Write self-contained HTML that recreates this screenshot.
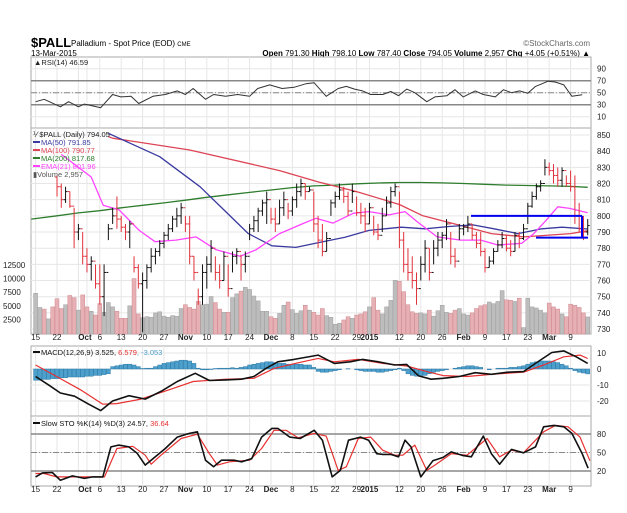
<!DOCTYPE html>
<html><head><meta charset="utf-8"><style>
html,body{margin:0;padding:0;background:#fff;}
svg{display:block;font-family:"Liberation Sans",sans-serif;}
</style></head><body>
<svg id="chart" width="627" height="513" viewBox="0 0 627 513" xmlns="http://www.w3.org/2000/svg">
<g>
<text x="31" y="47" font-size="13" font-weight="bold">$PALL</text>
<text x="71" y="46" font-size="8">Palladium - Spot Price (EOD) <tspan font-size="6">CME</tspan></text>
<text x="590" y="46" font-size="8" fill="#666" text-anchor="end">©StockCharts.com</text>
<text x="31" y="56" font-size="8">13-Mar-2015</text>
<text x="590" y="56" font-size="8" text-anchor="end"><tspan font-weight="bold">Open</tspan> 791.30 <tspan font-weight="bold">High</tspan> 798.10 <tspan font-weight="bold">Low</tspan> 787.40 <tspan font-weight="bold">Close</tspan> 794.05 <tspan font-weight="bold">Volume</tspan> 2,957 <tspan font-weight="bold">Chg</tspan> +4.05 (+0.51%) ▲</text>
</g>
<g id="grid"></g>
<g id="marks"></g>
<g id="labels"></g>
</svg>
<script>
// ---- data ----
const weekIdx = [0,5,10,15,20,25,30,35,40,45,50,55,60,65,70,75,78,85,90,95,100,105,110,115,120,125];
const weekLbl = ["15","22","","6","13","20","27","Nov","10","17","24","Dec","8","15","22","29","2015","12","20","26","Feb","9","17","23","Mar","9"];
const octIdx = 12;
const priceTicks = [730,740,750,760,770,780,790,800,810,820,830,840,850];
const volTicks = [2500,5000,7500,10000,12500];
const rsiTicks = [10,30,50,70,90];
const macdTicks = [10,0,-10,-20];
const stoTicks = [20,50,80];
const lows  = [822,824,822,824,820, 812,805,808,805,780,785,770,765,760,755,745,738,785,795,792,790,785,780,765,755,728,755,765,770,775,780,785,790,793,795,790,770,760,745,745,755,765,760,755,760,750,765,770,760,765,785,790,790,800,795,795,790,795,800,798,800,805,812,810,815,790,780,775,778,800,805,810,808,800,808,800,795,790,795,788,785,790,800,805,812,780,765,760,755,745,760,765,760,770,775,780,785,770,768,785,788,790,785,780,775,765,768,770,778,780,778,775,778,780,785,795,805,810,815,825,825,820,818,818,818,815,795,790,785,788];
const highs = [835,836,834,838,833, 825,820,818,815,805,795,790,780,775,770,770,770,795,805,812,800,795,797,775,770,765,770,780,780,785,790,795,800,805,808,800,800,775,755,770,775,785,775,770,778,770,778,780,776,778,795,800,805,810,815,805,805,810,815,808,812,820,823,820,818,815,800,795,790,810,815,820,818,815,820,812,808,805,808,800,795,805,812,818,820,815,790,780,775,765,775,785,780,785,790,790,798,790,780,795,795,800,795,790,790,780,775,780,785,790,788,785,790,790,795,808,815,820,822,835,833,832,830,830,825,828,825,808,800,798];
const closes= [825,828,826,830,824, 818,810,815,806,790,792,775,770,772,758,750,765,792,800,798,793,790,795,768,758,760,768,775,778,783,788,792,798,800,805,795,775,765,750,765,770,780,765,760,775,755,775,778,770,775,792,797,803,808,810,798,795,805,810,803,810,815,820,815,816,795,785,778,786,808,812,816,812,803,815,802,800,795,805,790,788,800,808,815,818,785,770,765,760,755,770,780,765,780,785,788,795,775,772,792,793,795,788,783,778,768,772,778,782,786,780,778,788,786,792,806,812,818,820,830,828,825,822,828,820,818,800,792,790,794];
const volumes=[7300,4700,4400,2600,4800,6300,4500,5200,6900,6500,4200,7000,4800,4000,3300,5400,3800,5600,4800,4000,2700,2700,5000,10000,3500,2800,3000,2900,3700,3900,3100,2900,3200,3100,4500,5200,4700,4400,5800,5200,5300,6700,5600,4400,3800,3800,6500,7200,7700,8400,8000,6800,5900,4000,4000,3000,2700,3600,5100,5700,4300,3600,4100,5100,4200,3800,3300,4500,3200,2900,1600,1800,2400,3000,2700,3300,3500,3900,4800,6500,4200,3500,4800,6000,9700,9500,7600,5200,3900,3600,3700,3500,4200,3100,4100,5100,3800,3600,4200,4500,3500,3300,3700,4500,5000,5200,5700,5400,5800,7800,6100,6000,5800,6400,1000,6400,4800,4600,4200,3700,5500,4800,4400,3500,3000,5300,5100,4700,3700,2957];
const ma50Idx = [17,19.5,29,38.4,44,49.7,55.2,60.8,66.4,72.3,77.9,85.4,91,96.6,102.2,107.1,112.7,118.3,123,129];
const ma50Val = [851,848,836.6,818,803.7,789,781.5,780.5,783.6,786.8,791,793,792,793.4,794.4,792,789,792,793,791.85];
const ma100Idx = [17,18,36,57,66,75,85,90.5,100,106.5,114,125,129];
const ma100Val = [849,848,840.7,828,821,815,807,800,793.6,789,787,789,790.77];
const ma200Idx = [-1,5,10,15,20,25,30,35,40,45,50,55,60,65,70,75,80,85,90,95,100,105,110,115,120,125,129];
const ma200Val = [798,800,801.8,803.2,805,806.5,808,809.7,811.5,813,814.5,816,817.5,818.5,819,819.8,820.3,820.6,820.6,820.4,820,819.5,819,818.8,818.5,818.2,817.68];
const emaIdx = [6,13,15.8,19.5,24.2,27.9,32.8,37.5,42.2,47.8,51.5,57,62.7,65.5,69.5,74.2,77.9,82.6,86.3,89.1,93.8,99.3,104,108,113.6,116.4,119.2,122,124.8,129];
const emaVal = [838,824,806.6,803.7,791,784,785,787,779,775,779,789,795.5,798.5,795.5,801.6,802.6,800.6,802.6,796.5,787,785,785,782,783,789,797,805.6,804.6,801.96];
const rsiIdx = [0,2,5.8,7.7,10,11.4,13.3,15.2,18,19.9,22.3,24.1,27.4,30.3,33.1,35,36.8,39.7,41.6,44.4,47.2,50,51.9,54.7,57.6,60.4,63.2,65.1,67.9,70.7,72.6,74.5,76.4,78.3,81.1,83,84.8,86.7,88.6,91.4,93.3,96.1,98,99.9,102.7,104.6,107.4,109.3,111.2,113.1,115,116.8,119.7,121.5,123.4,125.3,127.7];
const rsiVal = [35,39,26.5,35,26.5,31,28,25,47,43,44,32,44,47,53,47,57,39,47,44,47,44,57,63,57,59,65,66.5,44,57,60.5,56,53,47,47,52,45,56,50,35,43,45,55,43,53,47,43,55,50,53,49,60.5,69,67.6,63,44,46.59];
const macdIdx = [0,3,5.8,9.1,12.4,15.2,18,21.8,25.6,29.3,33.1,37.3,40.6,44.4,48.1,51,53.8,56.6,60.4,66,69.8,73.5,76.4,80.1,83.9,86.7,89.5,92.4,95.2,99,102.7,106.5,110.3,114,116.8,120.6,123.4,126.3,129];
const macdVal = [-4.7,-9.9,-15,-17,-22,-26,-20,-16.7,-18.8,-14,-7.8,-2.7,-7.2,-6.8,-6.4,-4.7,0.4,4.5,6,8.7,3.5,4.5,6,4.5,2.5,2.9,-4.3,-6.4,-5.8,-4.7,-2.3,-3.3,-2,-1.6,3.5,10.3,11.3,7.6,3.525];
const sigIdx = [0,4.9,10.5,15.7,19,24.6,31.2,36.8,44.4,51,55.7,61.3,66,69.8,75.4,81.1,86.7,91.4,95.2,100.8,107.4,114,118.7,123.4,127.2,129];
const sigVal = [2.5,-4.7,-13,-22,-21.6,-18.8,-13,-7.8,-6.4,-5.8,0.4,3.9,6.6,4.5,6,3.5,1.9,-1.6,-4.1,-4.7,-3.1,-2,2.5,7.6,8.7,6.579];
const histVal = [-7,-7,-6.5,-6.5,-6,-6,-5.5,-5.5,-5,-5,-5,-5,-4.5,-4.5,-4,-4,-3.5,-3,1.5,2,2.5,3,3,2.5,1.5,0.3,0.5,0.5,1.5,2.5,3.5,4,4.5,5,5.5,5.5,5,3.5,0.5,-0.5,-0.5,-0.3,0.3,0.5,0.5,0.5,0.8,0.5,1,1.5,2.5,3,3.5,4,4.5,4.5,4,3.5,3.5,3,3,3,3,2.5,2.5,1,-1.5,-2,-2,-1.5,-1,-0.5,0,0.2,0,-0.5,-1,-1.5,-1.5,-1.5,-2,-2,-1.5,-1,-0.5,0.5,-1,-3,-4,-4.5,-4.5,-4,-3,-2,-1.5,-1,-0.5,0,0.5,1,1.5,2,2,1.5,1,0,-0.5,0,0.5,0.5,0.5,1,1,1.5,2,3,4,4.5,5,5,5,4.5,4,3,2,0.5,-1,-2,-2.5,-3.053];
const kIdx = [0,1.6,3.9,5.8,8.6,11.4,13.3,15.7,17.6,19.4,21.8,23.7,25.6,27.4,30.3,33.1,35.9,37.8,39.7,41.6,43.4,46.3,48.1,50.5,52.8,55.2,56.6,59.4,61.8,65.1,67,69.3,71.2,73.1,75.9,77.8,79.7,81.1,83,84.8,86.3,87.7,90,92.8,95.2,97.1,99.9,101.8,104.6,106.5,108.4,111.2,114,116.8,118.7,121.1,123.4,125.3,127.7,129.1];
const kVal = [10.5,17,17.6,5,12,8,10.5,10.5,59,62,59,49,29.5,40,56.5,75,81,83.5,37.6,27,37.6,37.6,35,40,75,89,89,75,72.7,86,70,10.5,21,70,75,70,48,47,47,43,70,59,10.5,36.5,42,51,45,43,76.5,48,31,55,49.5,59,91.6,94,91.6,81,48,24.57];
const dIdx = [0,2,4.9,8.1,12.4,16.1,19,22.7,25.6,27,29.3,34,37.8,40.6,42.5,45.3,50,52.8,55.7,58.5,61.3,65.1,67.9,70.7,72.6,75.4,78.3,81.1,83.9,85.8,88.6,91.4,93.3,97.1,100.8,105.5,108.4,111.2,114,118.7,121.5,124.4,127.2,129.5];
const dVal = [16,16,10.5,10.5,10.5,10.5,56.5,60,45.6,31,45.6,72.7,79.7,48,29.5,35,37.6,56.5,86,86,73.8,81,76.5,21,26.8,72.7,75,53.8,45.6,45.6,62,21,29.5,48,45.6,72.7,43,53.8,49.5,83.5,94,91.6,75,36.64];
const firstVisibleBar = 5;

// ---- layout / axes ----
const L=31, R=591;
const P={rsi:[57,128],main:[128,334],macd:[346,416],sto:[416,486]};
const xOf=i=>35.6+i*4.28;
const yP=p=>135+(850-p)*1.617;
const yV=v=>333-v*0.00544;
const yR=v=>92.7-(v-50)*0.6;
const yM=v=>369-v*1.6;
const yS=v=>452.5-(v-50)*0.617;
const NS="http://www.w3.org/2000/svg";
const grid=document.getElementById('grid'), marks=document.getElementById('marks'), labels=document.getElementById('labels');
function mk(tag,attrs,parent){const e=document.createElementNS(NS,tag);for(const k in attrs)e.setAttribute(k,attrs[k]);parent.appendChild(e);return e;}
function txt(x,y,s,size,fill,anchor,parent){const t=mk('text',{x:x,y:y,'font-size':size,fill:fill,'text-anchor':anchor},parent);t.textContent=s;return t;}

for(const key in P){
  const [t,b]=P[key];
  const r=mk('rect',{x:L,y:t,width:R-L,height:b-t,fill:'#fff',stroke:'#aaa','stroke-width':1},grid);
  
  
  const gi=[octIdx].concat(weekIdx);
  gi.forEach(i=>{const l=mk('line',{x1:xOf(i),x2:xOf(i),y1:t,y2:b,stroke:'#e6e6e6','stroke-width':1},grid);
    
    });
}
[340,492].forEach(yy=>{
  weekIdx.forEach((i,k)=>{ if(!weekLbl[k])return;
    const bold=["Nov","Dec","2015","Feb","Mar"].includes(weekLbl[k]);
    const t=txt(xOf(i),yy,weekLbl[k],8,'#222','middle',labels);
    if(bold)t.setAttribute('font-weight','bold');
    
    });
  const o=txt(xOf(octIdx)-2,yy,"Oct",8,'#222','middle',labels);o.setAttribute('font-weight','bold');
  
  
});
function hgrid(ticks,fy){
  ticks.forEach(v=>{const y=fy(v);
    const l=mk('line',{x1:L,x2:R,y1:y,y2:y,stroke:'#e6e6e6'},grid);
    
    
    const tl=txt(597,y+3,String(v),8,'#222','start',labels);
    
    });
}
hgrid(rsiTicks,yR);
hgrid(priceTicks,yP);
hgrid(macdTicks,yM);
hgrid(stoTicks,yS);
volTicks.forEach(v=>{const t=txt(3,yV(v)+3,String(v),8,'#222','start',labels);
  
  });
function ref(y,dash){const l=mk('line',{x1:L,x2:R,y1:y,y2:y,stroke:'#888','stroke-width':dash?1:1.5},marks);
  if(dash)l.setAttribute('stroke-dasharray','6,2,1,2');
  
  }
ref(yR(70));ref(yR(30));ref(yR(50),true);
ref(yS(80));ref(yS(20));ref(yS(50),true);

volumes.forEach((v,i)=>{
  const down=i>0&&closes[i]<closes[i-1];
  const r=mk('rect',{x:xOf(i)-2,y:yV(v),width:4,height:P.main[1]-yV(v),fill:down?'#e6b0b4':'#bdbdbd',stroke:down?'#cf8a90':'#a0a0a0','stroke-width':0.5},marks);
  
  
});
function line(idx,vals,fy,color,w,name){
  const pts=idx.map((i,k)=>xOf(i).toFixed(1)+','+fy(vals[k]).toFixed(1)).join(' ');
  const p=mk('polyline',{points:pts,fill:'none',stroke:color,'stroke-width':w,'stroke-linejoin':'round'},marks);
  
  
}
line(ma200Idx,ma200Val,yP,'#2e7d2e',1.3,'ma200-line');
line(ma100Idx,ma100Val,yP,'#dd4455',1.3,'ma100-line');
line(ma50Idx,ma50Val,yP,'#3a3aa0',1.3,'ma50-line');
line(emaIdx,emaVal,yP,'#ff44ff',1.3,'ema21-line');
closes.forEach((c,i)=>{
  if(i<firstVisibleBar)return;
  const o=closes[i-1]; const down=c<o;
  const col=down?'#e0303a':'#111';
  const x=xOf(i);
  const g=mk('g',{stroke:col,'stroke-width':1},marks);
  
  
  mk('line',{x1:x,x2:x,y1:yP(highs[i]),y2:yP(lows[i])},g);
  mk('line',{x1:x-2,x2:x,y1:yP(o),y2:yP(o)},g);
  mk('line',{x1:x,x2:x+2,y1:yP(c),y2:yP(c)},g);
});
const ann=mk('g',{stroke:'#0000ee','stroke-width':2,fill:'none'},marks);


mk('line',{x1:471,x2:582,y1:yP(800),y2:yP(800)},ann);
mk('line',{x1:582,x2:582,y1:yP(800),y2:yP(786.5)},ann);
mk('line',{x1:536,x2:588,y1:yP(786.5),y2:yP(786.5)},ann);
line(rsiIdx,rsiVal,yR,'#333',1,'rsi-line');
histVal.forEach((v,i)=>{const y0=yM(0),y1=yM(v);
  const r=mk('rect',{x:xOf(i)-2,y:Math.min(y0,y1),width:4,height:Math.abs(y1-y0),fill:'#4d9fcc',stroke:'#2d7aa8','stroke-width':0.5},marks);
  
  });
line(sigIdx,sigVal,yM,'#e83030',1.2,'macd-signal-line');
line(macdIdx,macdVal,yM,'#111',1.6,'macd-line');
line(dIdx,dVal,yS,'#e83030',1.2,'sto-d-line');
line(kIdx,kVal,yS,'#111',1.6,'sto-k-line');

function leg(x,y,color,s){
  if(color){const l=mk('line',{x1:x,x2:x+7,y1:y-3,y2:y-3,stroke:color,'stroke-width':2},labels);
    
    }
  const t=txt(x+(color?8:0),y,s,7.5,color||'#222','start',labels);
  
  
  return t;
}
leg(34,65,null,'▲RSI(14) 46.59');
leg(33,137,null,'⅟ $PALL (Daily) 794.05');
leg(33,145,'#3a3aa0','MA(50) 791.85');
leg(33,153,'#dd4455','MA(100) 790.77');
leg(33,161,'#2e7d2e','MA(200) 817.68');
leg(33,169,'#ff44ff','EMA(21) 801.96');
leg(33,177,null,'▮Volume 2,957').setAttribute('fill','#555');
const m=leg(33,355,'#111','MACD(12,26,9) 3.525, ');
const m1=mk('tspan',{fill:'#e83030'},m);m1.textContent='6.579';
const m2=mk('tspan',{fill:'#4d9fcc'},m);m2.textContent=', -3.053';
const s=leg(33,426,'#111','Slow STO %K(14) %D(3) 24.57, ');
const s1=mk('tspan',{fill:'#e83030'},s);s1.textContent='36.64';
</script>
</body></html>
